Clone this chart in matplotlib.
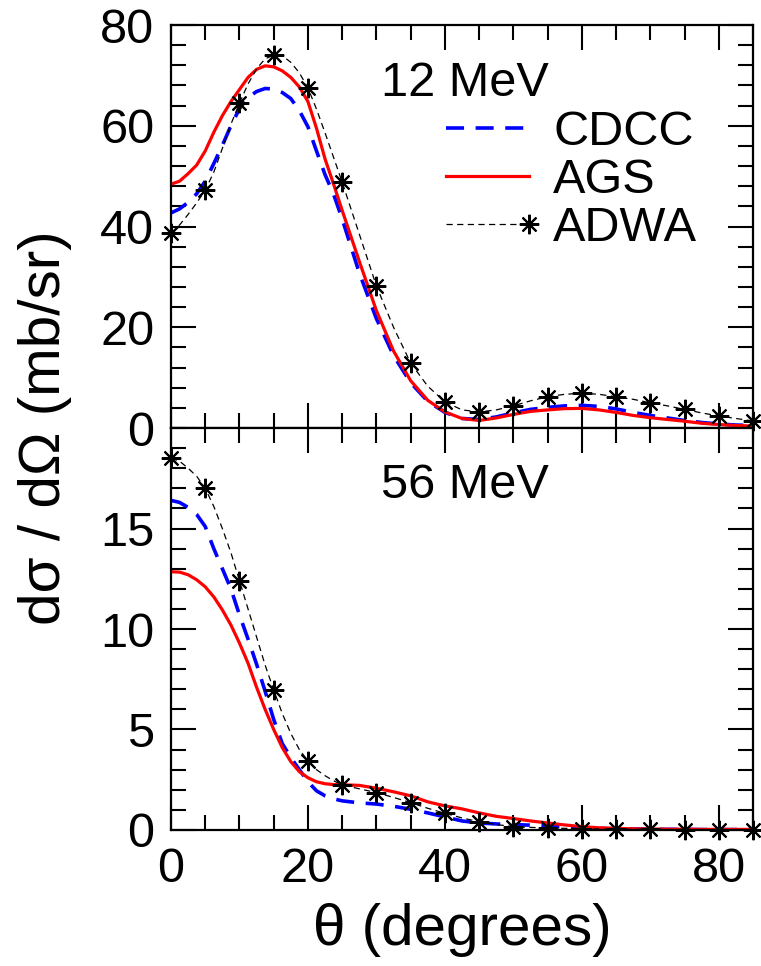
import numpy as np
import matplotlib
matplotlib.use('Agg')
import matplotlib.pyplot as plt
from matplotlib.ticker import MultipleLocator, FixedLocator
from matplotlib.legend_handler import HandlerLine2D

plt.rcParams['font.family'] = ['Liberation Sans', 'DejaVu Sans']

# angles (degrees): 1.25 deg steps up to 25, then 2.5 deg steps
theta = np.concatenate([np.arange(0, 25.1, 1.25), np.arange(27.5, 85.1, 2.5)])

# 12 MeV
cdcc_12 = [42.7, 43.5, 44.8, 46.5, 49.0, 52.5, 56.1, 60.0, 63.4, 65.6, 66.8,
           67.4, 67.3, 66.6, 65.4, 63.0, 59.8, 55.0, 50.3, 46.4, 41.5,
           30.8, 21.7, 14.4, 9.0, 5.3, 3.1, 1.9, 1.7, 2.2, 3.0, 3.7, 4.1, 4.4,
           4.5, 4.3, 3.8, 3.1, 2.5, 2.0, 1.5, 1.1, 0.8, 0.6, 0.5]
ags_12 = [48.4, 49.0, 50.5, 52.2, 55.0, 58.7, 62.0, 64.8, 67.2, 69.6, 71.2,
          71.9, 71.7, 70.9, 69.6, 67.7, 64.8, 59.5, 53.4, 48.4, 43.2,
          33.1, 23.3, 15.3, 9.4, 5.5, 3.2, 1.9, 1.5, 2.0, 2.7, 3.3, 3.6, 3.85,
          3.9, 3.6, 3.1, 2.5, 2.05, 1.7, 1.35, 0.95, 0.7, 0.5, 0.4]
adwa_12 = [38.7, 40.3, 42.4, 44.7, 47.2, 50.8, 55.5, 60.3, 64.5, 68.3, 71.3,
           73.3, 74.0, 73.9, 72.6, 70.5, 67.5, 63.3, 58.6, 53.7, 48.8,
           38.5, 28.2, 20.0, 12.9, 8.3, 5.2, 3.6, 3.2, 3.6, 4.4, 5.4, 6.2, 6.7,
           6.9, 6.7, 6.2, 5.7, 5.0, 4.4, 3.7, 3.0, 2.4, 1.9, 1.4]

# 56 MeV
cdcc_56 = [16.4, 16.3, 16.05, 15.7, 15.1, 14.0, 13.0, 12.0, 10.7, 9.5, 8.25,
           6.9, 5.5, 4.3, 3.6, 3.0, 2.4, 1.95, 1.7, 1.55, 1.45,
           1.35, 1.29, 1.18, 1.03, 0.85, 0.65, 0.45, 0.35, 0.3, 0.27, 0.24,
           0.2, 0.15, 0.1, 0.08, 0.06, 0.05, 0.04, 0.03, 0.03, 0.02, 0.02,
           0.02, 0.02]
ags_56 = [12.85, 12.83, 12.7, 12.45, 12.1, 11.6, 10.95, 10.2, 9.3, 8.3, 7.1,
          6.0, 5.0, 4.1, 3.4, 2.9, 2.6, 2.4, 2.3, 2.26, 2.25,
          2.22, 2.08, 1.9, 1.7, 1.4, 1.2, 1.05, 0.85, 0.68, 0.57, 0.45, 0.35,
          0.25, 0.17, 0.11, 0.08, 0.06, 0.05, 0.04, 0.04, 0.03, 0.03, 0.03,
          0.03]
adwa_56 = [18.5, 18.35, 18.0, 17.6, 17.0, 16.1, 15.0, 13.8, 12.4, 11.0, 9.6,
           8.2, 6.97, 5.8, 4.8, 4.0, 3.43, 3.0, 2.7, 2.45, 2.24,
           2.05, 1.86, 1.62, 1.36, 1.08, 0.83, 0.6, 0.41, 0.27, 0.17, 0.13,
           0.1, 0.08, 0.06, 0.05, 0.04, 0.035, 0.03, 0.025, 0.02, 0.02, 0.02,
           0.015, 0.01]

# ADWA symbols only every 5 degrees
star_idx = np.flatnonzero(theta % 5 == 0)


class EndStarHandler(HandlerLine2D):
    # legend sample with the star only at the right end
    def create_artists(self, legend, orig_handle, xdescent, ydescent, width,
                       height, fontsize, trans):
        arts = super().create_artists(legend, orig_handle, xdescent, ydescent,
                                      width, height, fontsize, trans)
        for a in arts:
            a.set_markevery([len(a.get_xdata()) - 1])
        return arts


fig = plt.figure(figsize=(7.61, 9.66), dpi=100)
ax1 = fig.add_axes([0.2247, 0.5569, 0.7648, 0.4172])
ax2 = fig.add_axes([0.2247, 0.1408, 0.7648, 0.4161], sharex=ax1)

star = (8, 2, 0)


def draw(ax, cdcc, ags, adwa):
    l1, = ax.plot(theta, cdcc, color='#0000ff', lw=2.6, dashes=(5, 3.2),
                  label='CDCC')
    l2, = ax.plot(theta, ags, color='#ff0000', lw=2.3, label='AGS')
    l3, = ax.plot(theta, adwa, color='black', lw=0.9, dashes=(5, 3.5),
                  marker=star, ms=14, mew=1.5, markevery=list(star_idx),
                  clip_on=False, label='ADWA')
    return l1, l2, l3


h = draw(ax1, cdcc_12, ags_12, adwa_12)
draw(ax2, cdcc_56, ags_56, adwa_56)

ax1.set_xlim(0, 85)
ax1.set_ylim(0, 80)
ax2.set_ylim(0, 20)

ax1.yaxis.set_major_locator(MultipleLocator(20))
ax1.yaxis.set_minor_locator(MultipleLocator(4))
ax2.yaxis.set_major_locator(FixedLocator([0, 5, 10, 15]))
ax2.yaxis.set_minor_locator(MultipleLocator(1))
ax2.xaxis.set_major_locator(MultipleLocator(20))
ax2.xaxis.set_minor_locator(MultipleLocator(5))

for ax in (ax1, ax2):
    for s in ax.spines.values():
        s.set_linewidth(1.6)
    ax.tick_params(which='both', direction='in', top=True, right=True,
                   width=1.5, labelsize=35, pad=12)
    ax.tick_params(which='major', length=18)
    ax.tick_params(which='minor', length=11)
plt.setp(ax1.get_xticklabels(), visible=False)

ax1.text(0.505, 0.856, '12 MeV', transform=ax1.transAxes, fontsize=35,
         ha='center', va='center')
ax2.text(0.505, 0.858, '56 MeV', transform=ax2.transAxes, fontsize=35,
         ha='center', va='center')

ax1.legend(handles=list(h), loc='center left', bbox_to_anchor=(0.448, 0.615),
           frameon=False, fontsize=35, numpoints=2, handlelength=2.3,
           handletextpad=0.2, labelspacing=0.06, borderpad=0, borderaxespad=0,
           handler_map={h[2]: EndStarHandler()})

ax2.set_xlabel('θ (degrees)', fontsize=42, labelpad=8)
fig.text(0.059, 0.557, 'dσ / dΩ (mb/sr)', rotation=90, fontsize=42,
         ha='center', va='center')

fig.savefig('out.png', dpi=100)
